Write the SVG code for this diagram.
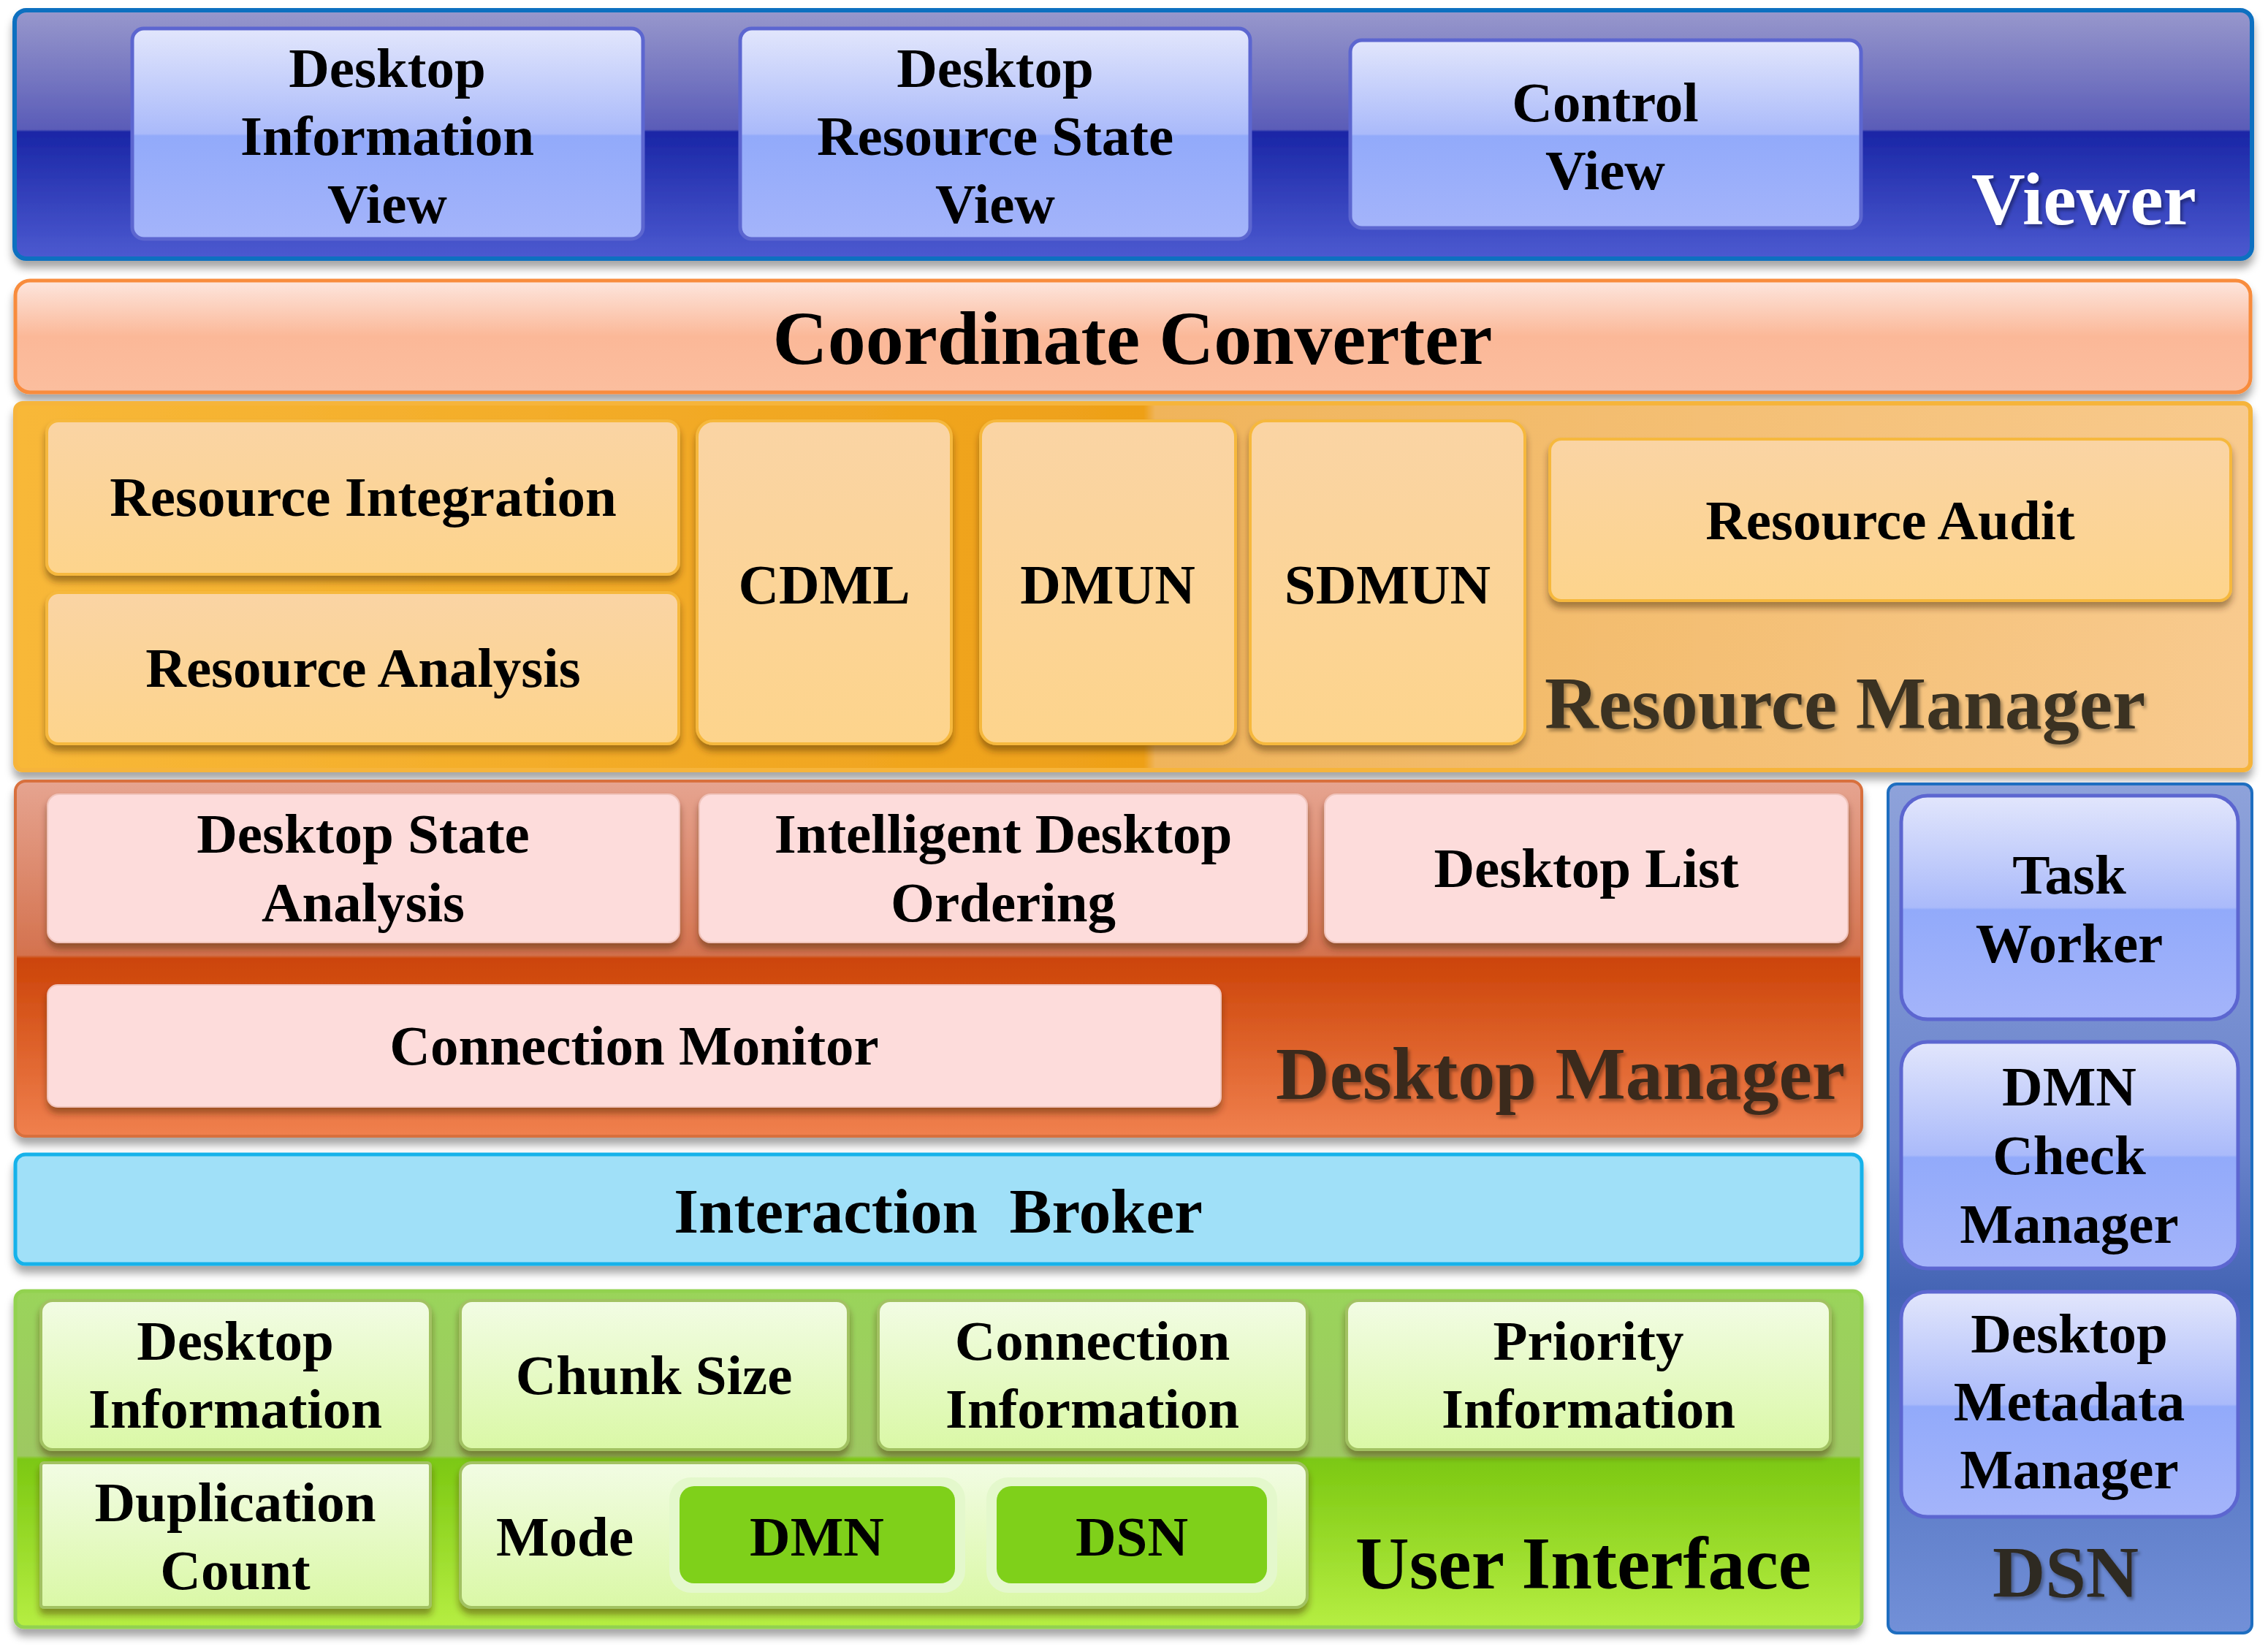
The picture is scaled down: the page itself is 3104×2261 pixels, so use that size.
<svg xmlns="http://www.w3.org/2000/svg" width="3104" height="2261" viewBox="0 0 3104 2261">
<defs>
  <filter id="sh" x="-5%" y="-10%" width="110%" height="130%">
    <feDropShadow dx="0" dy="10" stdDeviation="6" flood-color="#000" flood-opacity="0.35"/>
  </filter>
  <filter id="bsh" x="-5%" y="-10%" width="110%" height="130%">
    <feDropShadow dx="0" dy="8" stdDeviation="5" flood-color="#402000" flood-opacity="0.45"/>
  </filter>
  <filter id="tsh" x="-5%" y="-10%" width="110%" height="130%">
    <feDropShadow dx="3" dy="4" stdDeviation="2" flood-color="#000" flood-opacity="0.35"/>
  </filter>
  <linearGradient id="gViewer" x1="0" y1="0" x2="0" y2="1">
    <stop offset="0" stop-color="#9898cc"/>
    <stop offset="0.48" stop-color="#5a5cb8"/>
    <stop offset="0.49" stop-color="#1a26a6"/>
    <stop offset="1" stop-color="#4c5ad0"/>
  </linearGradient>
  <linearGradient id="gVbox" x1="0" y1="0" x2="0" y2="1">
    <stop offset="0" stop-color="#e2e6fc"/>
    <stop offset="0.5" stop-color="#aabafa"/>
    <stop offset="0.51" stop-color="#92aafa"/>
    <stop offset="1" stop-color="#a4b4fa"/>
  </linearGradient>
  <linearGradient id="gCoord" x1="0" y1="0" x2="0" y2="1">
    <stop offset="0" stop-color="#fde6de"/>
    <stop offset="0.5" stop-color="#fbb898"/>
    <stop offset="1" stop-color="#fbbe9e"/>
  </linearGradient>
  <linearGradient id="gRes" x1="0" y1="0" x2="1" y2="0">
    <stop offset="0" stop-color="#f8b838"/>
    <stop offset="0.505" stop-color="#eea018"/>
    <stop offset="0.51" stop-color="#f0b45a"/>
    <stop offset="1" stop-color="#f8ca8e"/>
  </linearGradient>
  <linearGradient id="gRbox" x1="0" y1="0" x2="0" y2="1">
    <stop offset="0" stop-color="#fad4a4"/>
    <stop offset="1" stop-color="#fdd48c"/>
  </linearGradient>
  <linearGradient id="gDesk" x1="0" y1="0" x2="0" y2="1">
    <stop offset="0" stop-color="#e6a490"/>
    <stop offset="0.49" stop-color="#d4724e"/>
    <stop offset="0.5" stop-color="#cc4408"/>
    <stop offset="1" stop-color="#f0804e"/>
  </linearGradient>
  <linearGradient id="gUI" x1="0" y1="0" x2="0" y2="1">
    <stop offset="0" stop-color="#9ad45a"/>
    <stop offset="0.49" stop-color="#9ec862"/>
    <stop offset="0.5" stop-color="#7cc812"/>
    <stop offset="1" stop-color="#b6ee42"/>
  </linearGradient>
  <linearGradient id="gUbox" x1="0" y1="0" x2="0" y2="1">
    <stop offset="0" stop-color="#f2fce4"/>
    <stop offset="1" stop-color="#daf8a6"/>
  </linearGradient>
  <linearGradient id="gDSN" x1="0" y1="0" x2="0" y2="1">
    <stop offset="0" stop-color="#8ea2da"/>
    <stop offset="0.42" stop-color="#6a84cc"/>
    <stop offset="0.6" stop-color="#4464b4"/>
    <stop offset="1" stop-color="#7290d8"/>
  </linearGradient>
</defs>
<style>
  text { font-family: "Liberation Serif", "Times New Roman", serif; font-weight: bold; fill: #000; }
  .lbl { font-size: 77px; text-anchor: middle; }
  .hdr { font-size: 102px; }
  .vbox { fill: url(#gVbox); stroke: #5c66d0; stroke-width: 5; }
  .rbox { fill: url(#gRbox); stroke: #f6b83c; stroke-width: 4; filter: url(#bsh); }
  .dbox { fill: #fddcdb; stroke: #f0c4bc; stroke-width: 2; filter: url(#bsh); }
  .ubox { fill: url(#gUbox); stroke: #a2c262; stroke-width: 4; filter: url(#bsh); }
  .halo { fill: #e4f8cc; }
  .pill { fill: #7fd01a; }
</style>
<rect width="3104" height="2261" fill="#ffffff"/>

<g id="viewer">
  <rect x="20" y="14" width="3062" height="340" rx="16" fill="url(#gViewer)" stroke="#0a70c0" stroke-width="6" filter="url(#sh)"/>
  <text x="2698" y="307" class="hdr" style="fill:#ffffff" filter="url(#tsh)">Viewer</text>
</g>
<g id="desktop-information-view">
  <rect x="181" y="39" width="699" height="288" rx="16" class="vbox"/>
  <text class="lbl" x="530" y="119">Desktop</text>
  <text class="lbl" x="530" y="212">Information</text>
  <text class="lbl" x="530" y="305">View</text>
</g>
<g id="desktop-resource-state-view">
  <rect x="1013" y="39" width="698" height="288" rx="16" class="vbox"/>
  <text class="lbl" x="1362" y="119">Desktop</text>
  <text class="lbl" x="1362" y="212">Resource State</text>
  <text class="lbl" x="1362" y="305">View</text>
</g>
<g id="control-view">
  <rect x="1848" y="55" width="699" height="257" rx="16" class="vbox"/>
  <text class="lbl" x="2197" y="166">Control</text>
  <text class="lbl" x="2197" y="259">View</text>
</g>

<g id="coordinate-converter">
  <rect x="21" y="384" width="3059" height="153" rx="20" fill="url(#gCoord)" stroke="#f88c3c" stroke-width="5" filter="url(#sh)"/>
  <text x="1550" y="498" style="font-size:104px;text-anchor:middle">Coordinate Converter</text>
</g>

<g id="resource-manager">
  <rect x="21" y="552" width="3059" height="502" rx="10" fill="url(#gRes)" stroke="#f6b43a" stroke-width="6" filter="url(#sh)"/>
  <text x="2114" y="997" class="hdr" style="fill:#3a3222" filter="url(#tsh)">Resource Manager</text>
</g>
<g id="resource-integration">
  <rect x="64" y="576" width="865" height="210" rx="16" class="rbox"/>
  <text class="lbl" x="497" y="706">Resource Integration</text>
</g>
<g id="resource-analysis">
  <rect x="64" y="811" width="865" height="207" rx="16" class="rbox"/>
  <text class="lbl" x="497" y="940">Resource Analysis</text>
</g>
<g id="cdml">
  <rect x="954" y="576" width="348" height="442" rx="22" class="rbox"/>
  <text class="lbl" x="1128" y="826">CDML</text>
</g>
<g id="dmun">
  <rect x="1342" y="576" width="349" height="442" rx="22" class="rbox"/>
  <text class="lbl" x="1516" y="826">DMUN</text>
</g>
<g id="sdmun">
  <rect x="1711" y="576" width="376" height="442" rx="22" class="rbox"/>
  <text class="lbl" x="1899" y="826">SDMUN</text>
</g>
<g id="resource-audit">
  <rect x="2121" y="601" width="932" height="221" rx="16" class="rbox"/>
  <text class="lbl" x="2587" y="738">Resource Audit</text>
</g>

<g id="desktop-manager">
  <rect x="21" y="1069" width="2527" height="486" rx="14" fill="url(#gDesk)" stroke="#d8703c" stroke-width="4" filter="url(#sh)"/>
  <text x="1746" y="1504" class="hdr" style="fill:#3a2a1c" filter="url(#tsh)">Desktop Manager</text>
</g>
<g id="desktop-state-analysis">
  <rect x="65" y="1087" width="865" height="203" rx="16" class="dbox"/>
  <text class="lbl" x="497" y="1167">Desktop State</text>
  <text class="lbl" x="497" y="1261">Analysis</text>
</g>
<g id="intelligent-desktop-ordering">
  <rect x="957" y="1087" width="832" height="203" rx="16" class="dbox"/>
  <text class="lbl" x="1373" y="1167">Intelligent Desktop</text>
  <text class="lbl" x="1373" y="1261">Ordering</text>
</g>
<g id="desktop-list">
  <rect x="1813" y="1087" width="716" height="203" rx="16" class="dbox"/>
  <text class="lbl" x="2171" y="1214">Desktop List</text>
</g>
<g id="connection-monitor">
  <rect x="65" y="1348" width="1606" height="167" rx="14" class="dbox"/>
  <text class="lbl" x="868" y="1457">Connection Monitor</text>
</g>

<g id="interaction-broker">
  <rect x="21" y="1580" width="2527" height="150" rx="14" fill="#a0e0f8" stroke="#12b2ea" stroke-width="5" filter="url(#sh)"/>
  <text x="1284" y="1687" style="font-size:87px;text-anchor:middle;word-spacing:22px">Interaction Broker</text>
</g>

<g id="user-interface">
  <rect x="21" y="1767" width="2527" height="460" rx="12" fill="url(#gUI)" stroke="#92d250" stroke-width="5" filter="url(#sh)"/>
  <text x="1855" y="2174" class="hdr">User Interface</text>
</g>
<g id="desktop-information">
  <rect x="56" y="1780" width="533" height="204" rx="16" class="ubox"/>
  <text class="lbl" x="322" y="1861">Desktop</text>
  <text class="lbl" x="322" y="1954">Information</text>
</g>
<g id="chunk-size">
  <rect x="630" y="1780" width="531" height="204" rx="16" class="ubox"/>
  <text class="lbl" x="895" y="1908">Chunk Size</text>
</g>
<g id="connection-information">
  <rect x="1202" y="1780" width="587" height="204" rx="16" class="ubox"/>
  <text class="lbl" x="1495" y="1861">Connection</text>
  <text class="lbl" x="1495" y="1954">Information</text>
</g>
<g id="priority-information">
  <rect x="1843" y="1780" width="662" height="204" rx="16" class="ubox"/>
  <text class="lbl" x="2174" y="1861">Priority</text>
  <text class="lbl" x="2174" y="1954">Information</text>
</g>
<g id="duplication-count">
  <rect x="56" y="2002" width="533" height="198" rx="4" class="ubox"/>
  <text class="lbl" x="322" y="2082">Duplication</text>
  <text class="lbl" x="322" y="2175">Count</text>
</g>
<g id="mode">
  <rect x="630" y="2002" width="1159" height="198" rx="16" class="ubox"/>
  <text class="lbl" x="773" y="2129">Mode</text>
</g>
<g id="mode-dmn">
  <rect x="916" y="2022" width="405" height="158" rx="30" class="halo"/>
  <rect x="930" y="2034" width="377" height="133" rx="20" class="pill"/>
  <text class="lbl" x="1118" y="2129">DMN</text>
</g>
<g id="mode-dsn">
  <rect x="1350" y="2022" width="398" height="158" rx="30" class="halo"/>
  <rect x="1364" y="2034" width="370" height="133" rx="20" class="pill"/>
  <text class="lbl" x="1549" y="2129">DSN</text>
</g>

<g id="dsn">
  <rect x="2584" y="1073" width="498" height="1162" rx="12" fill="url(#gDSN)" stroke="#1e6ec0" stroke-width="4"/>
  <text x="2827" y="2185" style="font-size:100px;text-anchor:middle;fill:#2e2a22" filter="url(#tsh)">DSN</text>
</g>
<g id="task-worker">
  <rect x="2602" y="1089" width="461" height="306" rx="36" class="vbox"/>
  <text class="lbl" x="2832" y="1223">Task</text>
  <text class="lbl" x="2832" y="1317">Worker</text>
</g>
<g id="dmn-check-manager">
  <rect x="2602" y="1426" width="461" height="310" rx="36" class="vbox"/>
  <text class="lbl" x="2832" y="1513">DMN</text>
  <text class="lbl" x="2832" y="1607">Check</text>
  <text class="lbl" x="2832" y="1701">Manager</text>
</g>
<g id="desktop-metadata-manager">
  <rect x="2602" y="1768" width="461" height="308" rx="36" class="vbox"/>
  <text class="lbl" x="2832" y="1851">Desktop</text>
  <text class="lbl" x="2832" y="1944">Metadata</text>
  <text class="lbl" x="2832" y="2037">Manager</text>
</g>

<g id="connectors"></g>
</svg>
